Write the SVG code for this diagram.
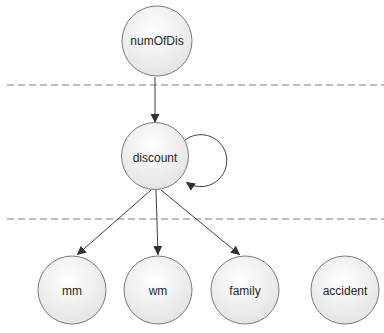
<svg xmlns="http://www.w3.org/2000/svg" width="384" height="333" viewBox="0 0 384 333">
<style>
.node circle{fill:url(#g);stroke:#7a7a7a;stroke-width:1}
.node text{font-family:"Liberation Sans",Arial,sans-serif;font-size:12px;fill:#262626;text-anchor:middle;dominant-baseline:central}
.sep{stroke:#7f7f7f;stroke-width:1.2;stroke-dasharray:7,4;fill:none}
.edge{stroke:#404040;stroke-width:1;fill:none;marker-end:url(#arr)}
</style>
<defs>
<radialGradient id="g" cx="0.45" cy="0.35" r="0.7">
<stop offset="0" stop-color="#ffffff"/>
<stop offset="1" stop-color="#e2e2e2"/>
</radialGradient>
<marker id="arr" viewBox="0 0 10 10" refX="10" refY="5" markerWidth="9" markerHeight="9" markerUnits="userSpaceOnUse" orient="auto">
<path d="M0,0 L10,5 L0,10 z" fill="#303030"/>
</marker>
</defs>
<rect width="384" height="333" fill="#fff"/>
<line class="sep" x1="7" y1="85" x2="384" y2="85"/>
<line class="sep" x1="7" y1="219" x2="384" y2="219"/>
<g id="connectors">
<line class="edge" x1="155" y1="77" x2="155" y2="123"/>
<path class="edge" d="M185,140 A26,26 0 1 1 186,182"/>
<line class="edge" x1="151" y1="190" x2="77" y2="255"/>
<line class="edge" x1="156" y1="190" x2="158" y2="255"/>
<line class="edge" x1="161" y1="190" x2="240" y2="255"/>
</g>
<g id="numOfDis" class="node"><circle cx="157" cy="41" r="35"/><text x="157" y="41">numOfDis</text></g>
<g id="discount" class="node"><circle cx="155" cy="156" r="33.5"/><text x="155" y="158">discount</text></g>
<g id="mm" class="node"><circle cx="72" cy="290" r="34"/><text x="72" y="291">mm</text></g>
<g id="wm" class="node"><circle cx="158" cy="290" r="34"/><text x="158" y="291">wm</text></g>
<g id="family" class="node"><circle cx="245" cy="290" r="34"/><text x="245" y="291">family</text></g>
<g id="accident" class="node"><circle cx="345" cy="290" r="34"/><text x="345" y="291">accident</text></g>
</svg>
